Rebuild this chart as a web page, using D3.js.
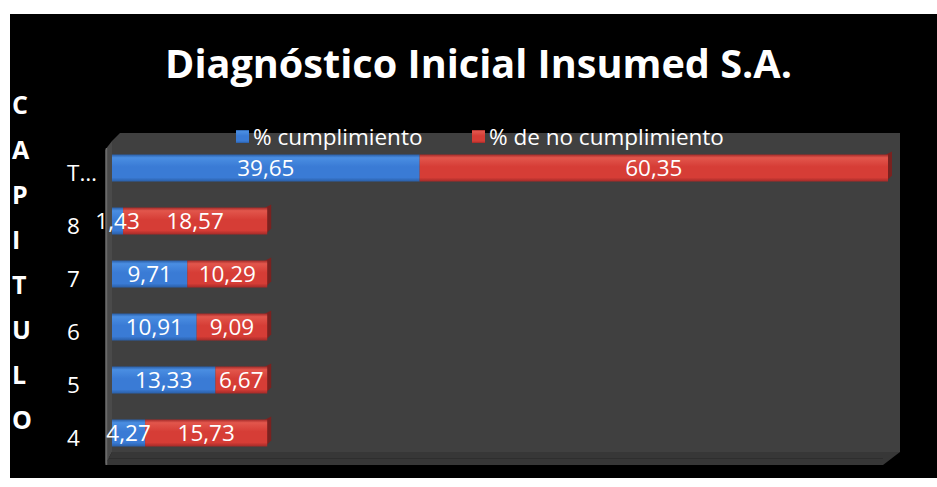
<!DOCTYPE html>
<html>
<head>
<meta charset="utf-8">
<script src="https://cdn.jsdelivr.net/npm/d3@7"></script>
<style>
  body { margin: 0; background: #fff; }
  text { font-family: "Open Sans", sans-serif; fill: #fff; }
</style>
</head>
<body>
<div id="container"></div>
<script>
// chart data
const categories = ["4", "5", "6", "7", "8", "T…"];
const cumplimiento = [4.27, 13.33, 10.91, 9.71, 1.43, 39.65];
const noCumplimiento = [15.73, 6.67, 9.09, 10.29, 18.57, 60.35];
const seriesNames = ["% cumplimiento", "% de no cumplimiento"];
const axisLetters = "CAPITULO".split("");

const width = 937, height = 487;

const svg = d3.select("#container").append("svg")
  .attr("width", width)
  .attr("height", height);

const defs = svg.append("defs");
function barGrad(id, top, mid, bottom) {
  const g = defs.append("linearGradient").attr("id", id)
    .attr("x1", 0).attr("y1", 0).attr("x2", 0).attr("y2", 1);
  g.append("stop").attr("offset", "0%").attr("stop-color", bottom);
  g.append("stop").attr("offset", "12%").attr("stop-color", top);
  g.append("stop").attr("offset", "45%").attr("stop-color", mid);
  g.append("stop").attr("offset", "85%").attr("stop-color", mid);
  g.append("stop").attr("offset", "100%").attr("stop-color", bottom);
}
barGrad("gBlue", "#4a8ee2", "#3a7bd5", "#2a5ea6");
barGrad("gRed", "#e2564c", "#d63d36", "#a32a28");

// black chart background
svg.append("rect").attr("x", 10).attr("y", 14)
  .attr("width", width - 10).attr("height", 464)
  .attr("fill", "#000");

const x = d3.scaleLinear().domain([0, 100]).range([112, 888]);
const y = d3.scaleBand()
  .domain([...categories].reverse())
  .range([141.5, 459.5])
  .paddingInner(0.49)
  .paddingOuter(0.245);

// 3d plot walls
const plot = svg.append("g");
plot.append("polygon")
  .attr("points", [[120, 133], [900, 133], [900, 452], [112, 452], [112, 141]].join(" "))
  .attr("fill", "#404040");
plot.append("polygon")
  .attr("points", [[112, 452], [900, 452], [883, 465], [105, 465]].join(" "))
  .attr("fill", "#373737");
plot.append("line").attr("x1", 105).attr("x2", 883).attr("y1", 458.5).attr("y2", 458.5)
  .attr("stroke", "#2e2e2e").attr("stroke-width", 1);
plot.append("polygon")
  .attr("points", [[105, 150], [112, 141], [112, 452], [105, 465]].join(" "))
  .attr("fill", "#4a4a4a");
plot.append("line").attr("x1", 106.5).attr("x2", 106.5).attr("y1", 148).attr("y2", 465)
  .attr("stroke", "#6a6a6a").attr("stroke-width", 1.5);

const fmt = d3.formatLocale({ decimal: ",", thousands: ".", grouping: [3], currency: ["", ""] }).format(".2f");

const rows = categories.map((c, i) => ({
  cat: c,
  a: cumplimiento[i],
  b: noCumplimiento[i]
}));

const bars = svg.append("g").selectAll("g.row")
  .data(rows)
  .join("g")
  .attr("class", "row");

// end cap (darker chamfer) behind the bar end
bars.append("polygon")
  .attr("points", d => {
    const xe = x(d.a + d.b), y0 = y(d.cat), h = y.bandwidth();
    return [[xe - 2, y0], [xe + 4, y0 - 3], [xe + 4, y0 + h - 6], [xe - 2, y0 + h]].join(" ");
  })
  .attr("fill", "#7a2220");

bars.append("rect")
  .attr("x", d => x(0))
  .attr("y", d => y(d.cat))
  .attr("width", d => x(d.a) - x(0))
  .attr("height", y.bandwidth())
  .attr("fill", "url(#gBlue)");

bars.append("rect")
  .attr("x", d => x(d.a))
  .attr("y", d => y(d.cat))
  .attr("width", d => x(d.a + d.b) - x(d.a))
  .attr("height", y.bandwidth())
  .attr("fill", "url(#gRed)");

// data labels
bars.append("text")
  .attr("x", d => (x(0) + x(d.a)) / 2)
  .attr("y", d => y(d.cat) + y.bandwidth() / 2)
  .attr("dy", "0.36em")
  .attr("text-anchor", "middle")
  .attr("font-size", 22.5)
  .text(d => fmt(d.a));

bars.append("text")
  .attr("x", d => (x(d.a) + x(d.a + d.b)) / 2)
  .attr("y", d => y(d.cat) + y.bandwidth() / 2)
  .attr("dy", "0.36em")
  .attr("text-anchor", "middle")
  .attr("font-size", 22.5)
  .text(d => fmt(d.b));

// category labels
svg.append("g").selectAll("text.cat")
  .data(categories)
  .join("text")
  .attr("class", "cat")
  .attr("x", 67)
  .attr("y", d => y(d) + y.bandwidth() / 2 + 5)
  .attr("dy", "0.36em")
  .attr("font-size", 22.5)
  .text(d => d);

// vertical axis title, stacked letters
svg.append("g").selectAll("text.ax")
  .data(axisLetters)
  .join("text")
  .attr("class", "ax")
  .attr("x", 12)
  .attr("y", (d, i) => 114 + i * 45)
  .attr("font-size", 25)
  .attr("font-weight", "bold")
  .text(d => d);

// title
const title = svg.append("text")
  .attr("x", 478.5)
  .attr("y", 78)
  .attr("text-anchor", "middle")
  .attr("font-size", 36)
  .attr("font-weight", "bold")
  .text("Diagnóstico Inicial Insumed S.A.");
const tw = title.node().getComputedTextLength();
title.attr("font-size", 36 * 627 / tw);

// legend
const legendX = [236, 472];
const legendColors = ["url(#gBlue)", "url(#gRed)"];
const legend = svg.append("g").selectAll("g.leg")
  .data(seriesNames)
  .join("g")
  .attr("class", "leg")
  .attr("transform", (d, i) => `translate(${legendX[i]},130)`);
legend.append("rect")
  .attr("width", 13).attr("height", 13)
  .attr("fill", (d, i) => legendColors[i]);
legend.append("text")
  .attr("x", 17)
  .attr("y", 7)
  .attr("dy", "0.36em")
  .attr("font-size", 22.5)
  .text(d => d);
</script>
</body>
</html>
